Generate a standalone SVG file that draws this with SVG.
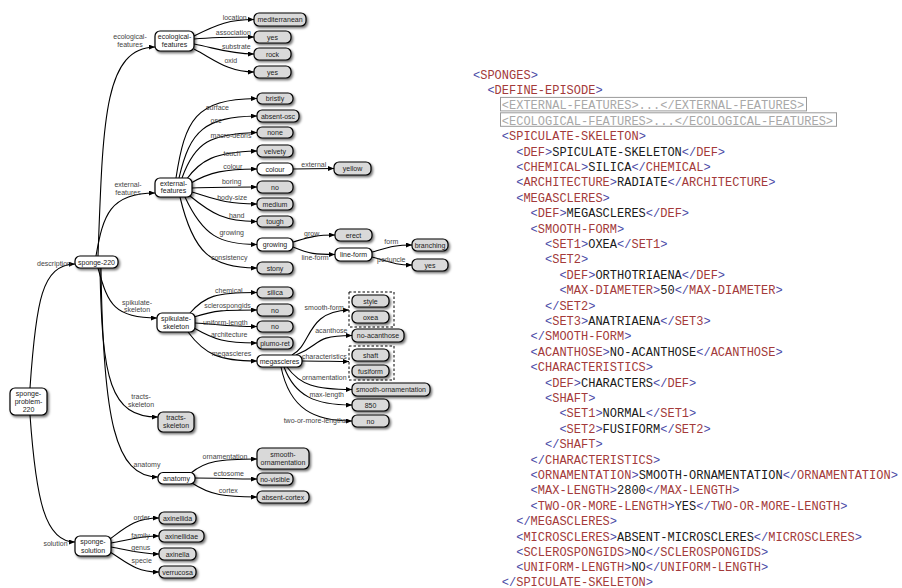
<svg xmlns="http://www.w3.org/2000/svg" width="902" height="588" viewBox="0 0 902 588">
<defs>
<filter id="sh" x="-20%" y="-30%" width="150%" height="170%">
<feDropShadow dx="1.5" dy="1.8" stdDeviation="1" flood-color="#000" flood-opacity="0.55"/>
</filter>
<marker id="ah" markerUnits="userSpaceOnUse" markerWidth="6" markerHeight="5" refX="6" refY="2.5" orient="auto">
<path d="M0,0 L6,2.5 L0,5 z" fill="#000"/>
</marker>
<style>
.w{fill:#fff;stroke:#000;stroke-width:1.2;filter:url(#sh)}
.l{fill:#d9d9d9;stroke:#000;stroke-width:1.2;filter:url(#sh)}
.t{font-family:"Liberation Sans",Arial,sans-serif;font-size:7px;fill:#222;text-anchor:middle}
.el{font-family:"Liberation Sans",Arial,sans-serif;font-size:7px;fill:#444;text-anchor:middle}
.e{fill:none;stroke:#000;stroke-width:1.1;marker-end:url(#ah)}
.d{fill:none;stroke:#000;stroke-width:1;stroke-dasharray:2.5 2}
.x{font-family:"Liberation Mono","Courier New",monospace;font-size:12px;fill:#a33a3a}
.b{fill:#4a4aa6}
.c{fill:#1a1a1a}
.gx{font-family:"Liberation Mono","Courier New",monospace;font-size:12px;fill:#a8a8a8}
.gb{fill:none;stroke:#9a9a9a;stroke-width:1}
</style>
</defs>
<rect width="902" height="588" fill="#fff"/>

<g id="connectors">
<path class="e" d="M30 388 C36 300,42 265,75 264"/>
<path class="e" d="M30 415 C36 500,45 542,75 542"/>
<path class="e" d="M98 256 C103 120,104 48,155 47"/>
<path class="e" d="M96 256 C103 215,110 193,155 193"/>
<path class="e" d="M98 268 C108 305,115 318,157 318"/>
<path class="e" d="M100 268 C102 380,110 417,158 417"/>
<path class="e" d="M101 268 C103 420,115 477,158 477"/>
<path class="e" d="M194 36 C218 24,230 19.5,254 19.5"/>
<path class="e" d="M194 39 C215 37,230 37,254 37"/>
<path class="e" d="M194 44 C215 48,230 54,254 54"/>
<path class="e" d="M194 49 C215 60,228 72,254 72"/>
<path class="e" d="M176 178 C185 120,195 99,257 98.5"/>
<path class="e" d="M179 178 C190 130,205 117,257 116"/>
<path class="e" d="M182 178 C195 142,210 134,257 132.5"/>
<path class="e" d="M186 180 C200 160,215 152,257 151"/>
<path class="e" d="M191 183 C210 172,225 169,257 169"/>
<path class="e" d="M192 188 C215 187,235 187,257 187"/>
<path class="e" d="M192 192 C215 199,225 204,257 204"/>
<path class="e" d="M190 196 C212 214,225 221.5,257 221.5"/>
<path class="e" d="M185 197 C203 236,220 244.5,257 244.5"/>
<path class="e" d="M180 197 C193 252,210 268,257 268"/>
<path class="e" d="M293 169 C310 168.5,320 168.5,334 168.5"/>
<path class="e" d="M293 242 C310 237,315 235,335 235"/>
<path class="e" d="M293 247 C310 254,315 254.5,335 254.5"/>
<path class="e" d="M372 252 C390 247,395 245,412 245"/>
<path class="e" d="M372 257 C390 262,395 265,412 265"/>
<path class="e" d="M190 313 C205 296,215 292.5,257 292.5"/>
<path class="e" d="M194 317 C215 310,225 310,257 310"/>
<path class="e" d="M195 323 C215 324,230 326.5,257 326.5"/>
<path class="e" d="M194 328 C215 340,225 343,257 343"/>
<path class="e" d="M188 332 C205 355,220 361,257 361"/>
<path class="e" d="M292 355 C312 345,306 311,349 310"/>
<path class="e" d="M296 355 C322 345,312 335.5,352 335.5"/>
<path class="e" d="M302 361 C320 361,335 361.5,349 361.5"/>
<path class="e" d="M287 367 C300 385,315 389.5,352 389.5"/>
<path class="e" d="M284 367 C295 396,315 405,352 405"/>
<path class="e" d="M281 367 C290 410,315 421,352 421"/>
<path class="e" d="M191 473 C205 461,220 459,257 459"/>
<path class="e" d="M195 478 C215 478,235 479,257 479"/>
<path class="e" d="M192 483 C210 495,225 497,257 497"/>
<path class="e" d="M110 539 C125 528,135 518,159 518"/>
<path class="e" d="M111 543 C128 540,140 536,159 536"/>
<path class="e" d="M111 547 C128 550,140 554,159 554"/>
<path class="e" d="M110 552 C125 561,135 572,159 572"/>
<rect class="d" x="349" y="292" width="45" height="35"/>
<rect class="d" x="349" y="346" width="45" height="34"/>
</g>

<g id="edge-labels">
<text class="el" x="54" y="265.5">description</text>
<text class="el" x="130" y="38.5">ecological-</text>
<text class="el" x="130" y="46.5">features</text>
<text class="el" x="128" y="187">external-</text>
<text class="el" x="128" y="195">features</text>
<text class="el" x="137" y="304.8">spikulate-</text>
<text class="el" x="137" y="311.8">skeleton</text>
<text class="el" x="141" y="399">tracts-</text>
<text class="el" x="141" y="407">skeleton</text>
<text class="el" x="147" y="466.8">anatomy</text>
<text class="el" x="55.5" y="545.5">solution</text>
<text class="el" x="234.7" y="20">location</text>
<text class="el" x="233.3" y="35.2">association</text>
<text class="el" x="236.3" y="49.2">substrate</text>
<text class="el" x="230.8" y="63.2">oxid</text>
<text class="el" x="217.5" y="109.8">surface</text>
<text class="el" x="216" y="122.5">osc</text>
<text class="el" x="231" y="137.5">macro-debris</text>
<text class="el" x="232" y="155.8">touch</text>
<text class="el" x="232.8" y="169.2">colour</text>
<text class="el" x="231.7" y="184.2">boring</text>
<text class="el" x="232.2" y="200.2">body-size</text>
<text class="el" x="236.7" y="217.5">hand</text>
<text class="el" x="231.7" y="234.8">growing</text>
<text class="el" x="229.2" y="260.2">consistency</text>
<text class="el" x="313.8" y="166.8">external</text>
<text class="el" x="311.7" y="235.8">grow</text>
<text class="el" x="315" y="260.2">line-form</text>
<text class="el" x="391.3" y="244.2">form</text>
<text class="el" x="391.3" y="261.8">peduncle</text>
<text class="el" x="228.8" y="292.5">chemical</text>
<text class="el" x="227.5" y="308.2">sclerospongids</text>
<text class="el" x="225.3" y="325.2">uniform-length</text>
<text class="el" x="229.2" y="336.8">architecture</text>
<text class="el" x="231.5" y="355.8">megascleres</text>
<text class="el" x="324.2" y="309.8">smooth-form</text>
<text class="el" x="331.3" y="333.2">acanthose</text>
<text class="el" x="324.3" y="358.5">characteristics</text>
<text class="el" x="324.3" y="380.2">ornamentation</text>
<text class="el" x="326.7" y="396.8">max-length</text>
<text class="el" x="315" y="423.2">two-or-more-lengths</text>
<text class="el" x="225" y="459.2">ornamentation</text>
<text class="el" x="228.7" y="475.8">ectosome</text>
<text class="el" x="228.3" y="493.2">cortex</text>
<text class="el" x="141.7" y="520.2">order</text>
<text class="el" x="140.5" y="538.2">family</text>
<text class="el" x="140.8" y="550.2">genus</text>
<text class="el" x="141.7" y="563.2">specie</text>
</g>

<g id="n-sponge-problem-220"><rect class="w" x="10" y="388" width="37" height="27" rx="5"/><text class="t" x="28.5" y="396">sponge-</text><text class="t" x="28.5" y="404">problem-</text><text class="t" x="28.5" y="412">220</text></g>
<g id="n-sponge-220"><rect class="w" x="75" y="256" width="43" height="12" rx="5"/><text class="t" x="96.5" y="264.5">sponge-220</text></g>
<g id="n-ecological-features"><rect class="w" x="155" y="31" width="39" height="20" rx="5"/><text class="t" x="174.5" y="38.5">ecological-</text><text class="t" x="174.5" y="46.5">features</text></g>
<g id="n-external-features"><rect class="w" x="155" y="178" width="37" height="19" rx="5"/><text class="t" x="173.5" y="185.8">external-</text><text class="t" x="173.5" y="193.2">features</text></g>
<g id="n-spikulate-skeleton"><rect class="w" x="157" y="313" width="38" height="19" rx="5"/><text class="t" x="176" y="321">spikulate-</text><text class="t" x="176" y="329">skeleton</text></g>
<g id="n-tracts-skeleton"><rect class="l" x="158" y="412" width="36" height="20" rx="5"/><text class="t" x="176" y="419.5">tracts-</text><text class="t" x="176" y="427.5">skeleton</text></g>
<g id="n-anatomy"><rect class="w" x="158" y="472.5" width="37" height="11.5" rx="5"/><text class="t" x="176.5" y="480.8">anatomy</text></g>
<g id="n-sponge-solution"><rect class="w" x="75" y="536" width="36" height="20" rx="5"/><text class="t" x="93" y="544">sponge-</text><text class="t" x="93" y="552.5">solution</text></g>

<g id="n-mediterranean"><rect class="l" x="254" y="13" width="52" height="13" rx="5"/><text class="t" x="280" y="22">mediterranean</text></g>
<g id="n-association-yes"><rect class="l" x="254" y="31" width="37" height="12" rx="5"/><text class="t" x="272.5" y="39.5">yes</text></g>
<g id="n-rock"><rect class="l" x="254" y="48" width="37" height="12" rx="5"/><text class="t" x="272.5" y="56.5">rock</text></g>
<g id="n-oxid-yes"><rect class="l" x="254" y="66" width="37" height="12" rx="5"/><text class="t" x="272.5" y="74.5">yes</text></g>

<g id="n-bristly"><rect class="l" x="257" y="93" width="36" height="11" rx="5"/><text class="t" x="275" y="101">bristly</text></g>
<g id="n-absent-osc"><rect class="l" x="257" y="110" width="42" height="12" rx="5"/><text class="t" x="278" y="118.5">absent-osc</text></g>
<g id="n-none"><rect class="l" x="257" y="127" width="36" height="11" rx="5"/><text class="t" x="275" y="135">none</text></g>
<g id="n-velvety"><rect class="l" x="257" y="145" width="36" height="12" rx="5"/><text class="t" x="275" y="153.5">velvety</text></g>
<g id="n-colour"><rect class="w" x="257" y="163" width="36" height="12" rx="5"/><text class="t" x="275" y="171.5">colour</text></g>
<g id="n-yellow"><rect class="l" x="334" y="162" width="37" height="13" rx="5"/><text class="t" x="352.5" y="171">yellow</text></g>
<g id="n-boring-no"><rect class="l" x="257" y="181" width="36" height="12" rx="5"/><text class="t" x="275" y="189.5">no</text></g>
<g id="n-medium"><rect class="l" x="257" y="198" width="36" height="12" rx="5"/><text class="t" x="275" y="206.5">medium</text></g>
<g id="n-tough"><rect class="l" x="257" y="216" width="36" height="11" rx="5"/><text class="t" x="275" y="224">tough</text></g>
<g id="n-growing"><rect class="w" x="257" y="238" width="36" height="13" rx="5"/><text class="t" x="275" y="247">growing</text></g>
<g id="n-erect"><rect class="l" x="335" y="229" width="37" height="12" rx="5"/><text class="t" x="353.5" y="237.5">erect</text></g>
<g id="n-line-form"><rect class="w" x="335" y="248" width="37" height="13" rx="5"/><text class="t" x="353.5" y="257">line-form</text></g>
<g id="n-branching"><rect class="l" x="412" y="239" width="36" height="12" rx="5"/><text class="t" x="430" y="247.5">branching</text></g>
<g id="n-peduncle-yes"><rect class="l" x="412" y="259" width="36" height="12" rx="5"/><text class="t" x="430" y="267.5">yes</text></g>
<g id="n-stony"><rect class="l" x="257" y="262" width="36" height="12" rx="5"/><text class="t" x="275" y="270.5">stony</text></g>

<g id="n-silica"><rect class="l" x="257" y="287" width="36" height="11" rx="5"/><text class="t" x="275" y="295">silica</text></g>
<g id="n-sclerospongids-no"><rect class="l" x="257" y="304" width="36" height="12" rx="5"/><text class="t" x="275" y="312.5">no</text></g>
<g id="n-uniform-length-no"><rect class="l" x="257" y="321" width="36" height="11" rx="5"/><text class="t" x="275" y="329">no</text></g>
<g id="n-plumo-ret"><rect class="l" x="257" y="337" width="36" height="12" rx="5"/><text class="t" x="275" y="345.5">plumo-ret</text></g>
<g id="n-megascleres"><rect class="w" x="257" y="355" width="45" height="12" rx="5"/><text class="t" x="279.5" y="363.5">megascleres</text></g>
<g id="n-style"><rect class="l" x="352" y="295" width="37" height="12" rx="5"/><text class="t" x="370.5" y="303.5">style</text></g>
<g id="n-oxea"><rect class="l" x="352" y="311" width="37" height="12" rx="5"/><text class="t" x="370.5" y="319.5">oxea</text></g>
<g id="n-no-acanthose"><rect class="l" x="352" y="329" width="52" height="13" rx="5"/><text class="t" x="378" y="338">no-acanthose</text></g>
<g id="n-shaft"><rect class="l" x="352" y="349" width="37" height="12" rx="5"/><text class="t" x="370.5" y="357.5">shaft</text></g>
<g id="n-fusiform"><rect class="l" x="352" y="365" width="37" height="12" rx="5"/><text class="t" x="370.5" y="373.5">fusiform</text></g>
<g id="n-smooth-ornamentation-1"><rect class="l" x="352" y="383" width="78" height="13" rx="5"/><text class="t" x="391" y="392">smooth-ornamentation</text></g>
<g id="n-850"><rect class="l" x="352" y="399" width="37" height="12" rx="5"/><text class="t" x="370.5" y="407.5">850</text></g>
<g id="n-two-or-more-no"><rect class="l" x="352" y="415" width="37" height="12" rx="5"/><text class="t" x="370.5" y="423.5">no</text></g>

<g id="n-smooth-ornamentation-2"><rect class="l" x="257" y="448" width="52" height="21" rx="5"/><text class="t" x="283" y="457">smooth-</text><text class="t" x="283" y="465">ornamentation</text></g>
<g id="n-no-visible"><rect class="l" x="257" y="473" width="36" height="12" rx="5"/><text class="t" x="275" y="481.5">no-visible</text></g>
<g id="n-absent-cortex"><rect class="l" x="257" y="491" width="52" height="12" rx="5"/><text class="t" x="283" y="499.5">absent-cortex</text></g>

<g id="n-axinellida"><rect class="l" x="159" y="512" width="37" height="12" rx="5"/><text class="t" x="177.5" y="520.5">axinellida</text></g>
<g id="n-axinellidae"><rect class="l" x="159" y="530" width="45" height="12" rx="5"/><text class="t" x="181.5" y="538.5">axinellidae</text></g>
<g id="n-axinella"><rect class="l" x="159" y="548" width="37" height="12" rx="5"/><text class="t" x="177.5" y="556.5">axinella</text></g>
<g id="n-verrucosa"><rect class="l" x="159" y="566" width="37" height="12" rx="5"/><text class="t" x="177.5" y="574.5">verrucosa</text></g>

<g id="xml">
<rect class="gb" x="500.5" y="97.4" width="306" height="13.5"/>
<rect class="gb" x="500.5" y="112.8" width="336" height="13.5"/>
<text class="x" x="473" y="78.6"><tspan class="b">&lt;</tspan>SPONGES<tspan class="b">&gt;</tspan></text>
<text class="x" x="487.4" y="94"><tspan class="b">&lt;</tspan>DEFINE-EPISODE<tspan class="b">&gt;</tspan></text>
<text class="gx" x="501.8" y="109.4">&lt;EXTERNAL-FEATURES&gt;...&lt;/EXTERNAL-FEATURES&gt;</text>
<text class="gx" x="501.8" y="124.8">&lt;ECOLOGICAL-FEATURES&gt;...&lt;/ECOLOGICAL-FEATURES&gt;</text>
<text class="x" x="501.8" y="140.2"><tspan class="b">&lt;</tspan>SPICULATE-SKELETON<tspan class="b">&gt;</tspan></text>
<text class="x" x="516.2" y="155.6"><tspan class="b">&lt;</tspan>DEF<tspan class="b">&gt;</tspan><tspan class="c">SPICULATE-SKELETON</tspan><tspan class="b">&lt;/</tspan>DEF<tspan class="b">&gt;</tspan></text>
<text class="x" x="516.2" y="171"><tspan class="b">&lt;</tspan>CHEMICAL<tspan class="b">&gt;</tspan><tspan class="c">SILICA</tspan><tspan class="b">&lt;/</tspan>CHEMICAL<tspan class="b">&gt;</tspan></text>
<text class="x" x="516.2" y="186.4"><tspan class="b">&lt;</tspan>ARCHITECTURE<tspan class="b">&gt;</tspan><tspan class="c">RADIATE</tspan><tspan class="b">&lt;/</tspan>ARCHITECTURE<tspan class="b">&gt;</tspan></text>
<text class="x" x="516.2" y="201.8"><tspan class="b">&lt;</tspan>MEGASCLERES<tspan class="b">&gt;</tspan></text>
<text class="x" x="530.6" y="217.2"><tspan class="b">&lt;</tspan>DEF<tspan class="b">&gt;</tspan><tspan class="c">MEGASCLERES</tspan><tspan class="b">&lt;/</tspan>DEF<tspan class="b">&gt;</tspan></text>
<text class="x" x="530.6" y="232.6"><tspan class="b">&lt;</tspan>SMOOTH-FORM<tspan class="b">&gt;</tspan></text>
<text class="x" x="545" y="248"><tspan class="b">&lt;</tspan>SET1<tspan class="b">&gt;</tspan><tspan class="c">OXEA</tspan><tspan class="b">&lt;/</tspan>SET1<tspan class="b">&gt;</tspan></text>
<text class="x" x="545" y="263.4"><tspan class="b">&lt;</tspan>SET2<tspan class="b">&gt;</tspan></text>
<text class="x" x="559.4" y="278.8"><tspan class="b">&lt;</tspan>DEF<tspan class="b">&gt;</tspan><tspan class="c">ORTHOTRIAENA</tspan><tspan class="b">&lt;/</tspan>DEF<tspan class="b">&gt;</tspan></text>
<text class="x" x="559.4" y="294.2"><tspan class="b">&lt;</tspan>MAX-DIAMETER<tspan class="b">&gt;</tspan><tspan class="c">50</tspan><tspan class="b">&lt;/</tspan>MAX-DIAMETER<tspan class="b">&gt;</tspan></text>
<text class="x" x="545" y="309.6"><tspan class="b">&lt;/</tspan>SET2<tspan class="b">&gt;</tspan></text>
<text class="x" x="545" y="325"><tspan class="b">&lt;</tspan>SET3<tspan class="b">&gt;</tspan><tspan class="c">ANATRIAENA</tspan><tspan class="b">&lt;/</tspan>SET3<tspan class="b">&gt;</tspan></text>
<text class="x" x="530.6" y="340.4"><tspan class="b">&lt;/</tspan>SMOOTH-FORM<tspan class="b">&gt;</tspan></text>
<text class="x" x="530.6" y="355.8"><tspan class="b">&lt;</tspan>ACANTHOSE<tspan class="b">&gt;</tspan><tspan class="c">NO-ACANTHOSE</tspan><tspan class="b">&lt;/</tspan>ACANTHOSE<tspan class="b">&gt;</tspan></text>
<text class="x" x="530.6" y="371.2"><tspan class="b">&lt;</tspan>CHARACTERISTICS<tspan class="b">&gt;</tspan></text>
<text class="x" x="545" y="386.6"><tspan class="b">&lt;</tspan>DEF<tspan class="b">&gt;</tspan><tspan class="c">CHARACTERS</tspan><tspan class="b">&lt;/</tspan>DEF<tspan class="b">&gt;</tspan></text>
<text class="x" x="545" y="402"><tspan class="b">&lt;</tspan>SHAFT<tspan class="b">&gt;</tspan></text>
<text class="x" x="559.4" y="417.4"><tspan class="b">&lt;</tspan>SET1<tspan class="b">&gt;</tspan><tspan class="c">NORMAL</tspan><tspan class="b">&lt;/</tspan>SET1<tspan class="b">&gt;</tspan></text>
<text class="x" x="559.4" y="432.8"><tspan class="b">&lt;</tspan>SET2<tspan class="b">&gt;</tspan><tspan class="c">FUSIFORM</tspan><tspan class="b">&lt;/</tspan>SET2<tspan class="b">&gt;</tspan></text>
<text class="x" x="545" y="448.2"><tspan class="b">&lt;/</tspan>SHAFT<tspan class="b">&gt;</tspan></text>
<text class="x" x="530.6" y="463.6"><tspan class="b">&lt;/</tspan>CHARACTERISTICS<tspan class="b">&gt;</tspan></text>
<text class="x" x="530.6" y="479"><tspan class="b">&lt;</tspan>ORNAMENTATION<tspan class="b">&gt;</tspan><tspan class="c">SMOOTH-ORNAMENTATION</tspan><tspan class="b">&lt;/</tspan>ORNAMENTATION<tspan class="b">&gt;</tspan></text>
<text class="x" x="530.6" y="494.4"><tspan class="b">&lt;</tspan>MAX-LENGTH<tspan class="b">&gt;</tspan><tspan class="c">2800</tspan><tspan class="b">&lt;/</tspan>MAX-LENGTH<tspan class="b">&gt;</tspan></text>
<text class="x" x="530.6" y="509.8"><tspan class="b">&lt;</tspan>TWO-OR-MORE-LENGTH<tspan class="b">&gt;</tspan><tspan class="c">YES</tspan><tspan class="b">&lt;/</tspan>TWO-OR-MORE-LENGTH<tspan class="b">&gt;</tspan></text>
<text class="x" x="516.2" y="525.2"><tspan class="b">&lt;/</tspan>MEGASCLERES<tspan class="b">&gt;</tspan></text>
<text class="x" x="516.2" y="540.6"><tspan class="b">&lt;</tspan>MICROSCLERES<tspan class="b">&gt;</tspan><tspan class="c">ABSENT-MICROSCLERES</tspan><tspan class="b">&lt;/</tspan>MICROSCLERES<tspan class="b">&gt;</tspan></text>
<text class="x" x="516.2" y="556"><tspan class="b">&lt;</tspan>SCLEROSPONGIDS<tspan class="b">&gt;</tspan><tspan class="c">NO</tspan><tspan class="b">&lt;/</tspan>SCLEROSPONGIDS<tspan class="b">&gt;</tspan></text>
<text class="x" x="516.2" y="571.4"><tspan class="b">&lt;</tspan>UNIFORM-LENGTH<tspan class="b">&gt;</tspan><tspan class="c">NO</tspan><tspan class="b">&lt;/</tspan>UNIFORM-LENGTH<tspan class="b">&gt;</tspan></text>
<text class="x" x="501.8" y="585.8"><tspan class="b">&lt;/</tspan>SPICULATE-SKELETON<tspan class="b">&gt;</tspan></text>
</g>
</svg>
